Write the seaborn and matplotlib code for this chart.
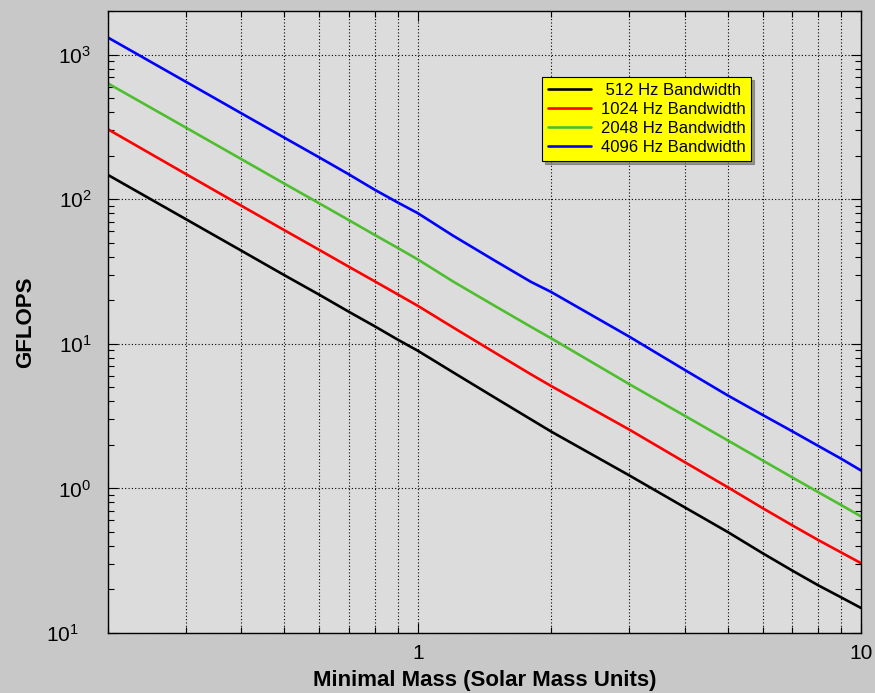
import numpy as np
import pandas as pd
import seaborn as sns
from matplotlib import pyplot as plt
from matplotlib.ticker import LogLocator, NullFormatter
from matplotlib.transforms import ScaledTranslation

# values (GFLOPS vs minimal mass)
mass = [0.2, 0.3, 0.4, 0.5, 0.6, 0.7, 0.8, 0.9, 1.0, 1.2, 1.5, 1.8, 2, 3, 4, 5, 6, 7, 8, 9, 10]
gflops_512 = [147, 72.6, 44, 29.8, 21.8, 16.6, 13.2, 10.7, 8.95, 6.36, 4.2, 3.0, 2.47,
              1.23, 0.74, 0.50, 0.356, 0.27, 0.214, 0.177, 0.149]
gflops_1024 = [304, 149, 90, 61, 44.5, 34, 27, 22, 18.3, 13.0, 8.6, 6.15, 5.1,
               2.55, 1.52, 1.02, 0.73, 0.555, 0.44, 0.362, 0.304]
gflops_2048 = [631, 312, 189, 128, 93.4, 71.4, 56.5, 46.1, 38.3, 27.0, 18.1, 13.1, 10.9,
               5.26, 3.18, 2.15, 1.56, 1.19, 0.943, 0.77, 0.64]
gflops_4096 = [1310, 647, 392, 266, 194, 148, 116, 95, 80, 56, 37.2, 26.8, 22.8,
               11.2, 6.6, 4.4, 3.22, 2.48, 1.97, 1.61, 1.33]

series_names = [' 512 Hz Bandwidth', '1024 Hz Bandwidth', '2048 Hz Bandwidth', '4096 Hz Bandwidth']
series_colors = ['#000000', '#ff0000', '#4dbf2e', '#0000ff']

x_ticks = [1, 10]
x_ticklabels = ['1', '10']
y_ticks = [0.1, 1, 10, 100, 1000]
y_ticklabels = [r'$\mathregular{10^{1}}$', r'$\mathregular{10^{0}}$', r'$\mathregular{10^{1}}$',
                r'$\mathregular{10^{2}}$', r'$\mathregular{10^{3}}$']

# long-form table for seaborn
rows = []
for name, vals in zip(series_names, [gflops_512, gflops_1024, gflops_2048, gflops_4096]):
    for m, g in zip(mass, vals):
        rows.append([name, m, g])
df = pd.DataFrame(rows, columns=['bw', 'mass', 'gflops'])

sns.set_style('ticks')
plt.rcParams['font.family'] = ['Liberation Sans', 'DejaVu Sans']
plt.rcParams['mathtext.fontset'] = 'custom'
plt.rcParams['mathtext.rm'] = 'Liberation Sans'
plt.rcParams['mathtext.it'] = 'Liberation Sans:italic'
plt.rcParams['mathtext.bf'] = 'Liberation Sans:bold'
for key in ['text.color', 'axes.labelcolor', 'xtick.color', 'ytick.color']:
    plt.rcParams[key] = 'black'

fig = plt.figure(figsize=(8.75, 6.93), dpi=100, facecolor='#c8c8c8')
ax = fig.add_axes([108 / 875, 1 - 633 / 693, 753 / 875, 622 / 693])
ax.set_facecolor('#dcdcdc')

sns.lineplot(data=df, x='mass', y='gflops', hue='bw', hue_order=series_names,
             palette=series_colors, linewidth=1.9, ax=ax)

ax.set(xscale='log', yscale='log', xlim=(0.2, 10), ylim=(0.1, 2000))
ax.set_xticks(x_ticks, labels=x_ticklabels)
ax.set_yticks(y_ticks, labels=y_ticklabels)
ax.xaxis.set_minor_locator(LogLocator(base=10, subs=np.arange(2, 10)))
ax.yaxis.set_minor_locator(LogLocator(base=10, subs=np.arange(2, 10)))
ax.xaxis.set_minor_formatter(NullFormatter())
ax.yaxis.set_minor_formatter(NullFormatter())

ax.tick_params(which='both', direction='in', top=True, right=True, colors='black',
               labelsize=15, width=0.8)
ax.tick_params(which='major', length=7)
ax.tick_params(which='minor', length=4)
ax.tick_params(axis='y', pad=12)
ax.tick_params(axis='x', pad=8)

# bottom label sits a little further left in the original
bottom_label = ax.yaxis.get_major_ticks()[0].label1
bottom_label.set_transform(bottom_label.get_transform()
                           + ScaledTranslation(-0.13, 0, fig.dpi_scale_trans))

ax.grid(True, which='major', axis='both', color='black', linestyle=(0, (1, 2)), linewidth=0.8)
ax.grid(True, which='minor', axis='x', color='black', linestyle=(0, (1, 2)), linewidth=0.8)

for s in ax.spines.values():
    s.set_color('black')
    s.set_linewidth(1.0)

ax.set_xlabel('Minimal Mass (Solar Mass Units)', fontsize=16, fontweight='bold')
ax.set_ylabel('GFLOPS', fontsize=16, fontweight='bold')
ax.xaxis.set_label_coords(0.5, -0.06)
ax.yaxis.set_label_coords(-0.095, 0.5)

handles, labels = ax.get_legend_handles_labels()
leg = ax.legend(handles, labels, loc='upper left', bbox_to_anchor=(0.576, 0.894),
                borderaxespad=0, fontsize=12, frameon=True, fancybox=False,
                facecolor='#ffff00', edgecolor='black', framealpha=1,
                handlelength=2.6, handletextpad=0.6, labelspacing=0.25, borderpad=0.35,
                shadow={'color': '0.45', 'alpha': 0.7})
leg.get_frame().set_linewidth(0.8)
for line in leg.get_lines():
    line.set_linewidth(1.9)

fig.savefig('out.png', dpi=100, facecolor=fig.get_facecolor())
